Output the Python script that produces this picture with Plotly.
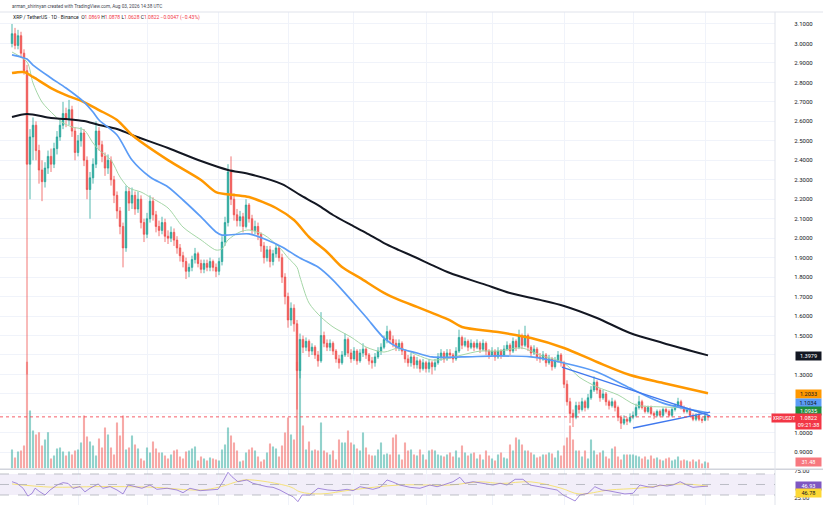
import plotly.graph_objects as go

# ---------------- data ----------------
first_open = 3.00
closes = [
    3.05, 2.99, 3.04, 2.95, 2.86, 2.38, 2.52, 2.58, 2.45, 2.35,
    2.29, 2.36, 2.42, 2.38, 2.46, 2.52, 2.58, 2.64, 2.61, 2.66,
    2.55, 2.44, 2.50, 2.54, 2.40, 2.25, 2.31, 2.38, 2.55, 2.48,
    2.42, 2.36, 2.40, 2.30, 2.22, 2.14, 2.06, 1.95, 2.24, 2.18,
    2.22, 2.15, 2.20, 2.08, 2.02, 2.10, 2.19, 2.12, 2.06, 2.04,
    2.08, 2.01, 2.00, 2.03, 1.99, 1.95, 1.91, 1.88, 1.83, 1.85,
    1.89, 1.92, 1.87, 1.84, 1.87, 1.85, 1.88, 1.85, 1.83, 1.88,
    1.98, 2.08, 2.34, 2.20, 2.12, 2.09, 2.11, 2.06, 2.17, 2.10,
    2.04, 2.06, 2.02, 1.96, 1.90, 1.94, 1.88, 1.92, 1.95, 1.90,
    1.80, 1.70, 1.58, 1.64, 1.56, 1.32, 1.48, 1.44, 1.47, 1.42,
    1.44, 1.40, 1.37, 1.50, 1.46, 1.44, 1.46, 1.42, 1.38, 1.36,
    1.40, 1.48, 1.41, 1.38, 1.42, 1.37, 1.41, 1.43, 1.40, 1.37,
    1.36, 1.39, 1.42, 1.44, 1.48, 1.52, 1.48, 1.46, 1.44, 1.46,
    1.42, 1.38, 1.36, 1.39, 1.35, 1.37, 1.33, 1.36, 1.33, 1.36,
    1.34, 1.36, 1.39, 1.41, 1.38, 1.41, 1.40, 1.38, 1.42, 1.49,
    1.45, 1.47, 1.44, 1.46, 1.44, 1.46, 1.43, 1.46, 1.42, 1.40,
    1.42, 1.39, 1.42, 1.40, 1.43, 1.45, 1.42, 1.47, 1.44, 1.50,
    1.45, 1.50, 1.44, 1.41, 1.43, 1.39, 1.38, 1.40, 1.36, 1.38,
    1.34, 1.37, 1.40, 1.36, 1.25, 1.16, 1.10, 1.08, 1.14, 1.12,
    1.16, 1.13, 1.18, 1.22, 1.26, 1.22, 1.18, 1.20, 1.16, 1.14,
    1.16, 1.13, 1.08, 1.05, 1.07, 1.06, 1.08, 1.09, 1.13, 1.16,
    1.13, 1.11, 1.13, 1.10, 1.09, 1.11, 1.09, 1.12, 1.11, 1.09,
    1.12, 1.14, 1.16, 1.13, 1.11, 1.12, 1.09, 1.07, 1.09, 1.07,
    1.065, 1.0869, 1.0822,
]
highs = [
    3.10, 3.08, 3.07, 3.06, 2.97, 2.89, 2.56, 2.62, 2.60, 2.48,
    2.40, 2.39, 2.45, 2.46, 2.49, 2.55, 2.61, 2.70, 2.67, 2.71,
    2.68, 2.57, 2.53, 2.57, 2.56, 2.42, 2.34, 2.41, 2.60, 2.57,
    2.50, 2.44, 2.43, 2.42, 2.32, 2.24, 2.16, 2.08, 2.27, 2.26,
    2.26, 2.24, 2.24, 2.22, 2.10, 2.13, 2.22, 2.21, 2.14, 2.09,
    2.11, 2.10, 2.04, 2.06, 2.05, 2.01, 1.97, 1.93, 1.90, 1.87,
    1.91, 1.95, 1.93, 1.89, 1.89, 1.89, 1.90, 1.89, 1.87, 1.90,
    2.01, 2.11, 2.38, 2.42, 2.23, 2.15, 2.14, 2.13, 2.20, 2.18,
    2.12, 2.09, 2.08, 2.03, 1.98, 1.96, 1.96, 1.94, 1.97, 1.96,
    1.92, 1.82, 1.72, 1.67, 1.66, 1.58, 1.51, 1.50, 1.49, 1.48,
    1.46, 1.45, 1.42, 1.62, 1.52, 1.48, 1.48, 1.47, 1.43, 1.40,
    1.42, 1.51, 1.49, 1.43, 1.44, 1.43, 1.43, 1.46, 1.44, 1.41,
    1.39, 1.41, 1.44, 1.46, 1.50, 1.55, 1.53, 1.50, 1.48, 1.48,
    1.47, 1.43, 1.40, 1.41, 1.40, 1.39, 1.38, 1.38, 1.37, 1.38,
    1.37, 1.38, 1.41, 1.43, 1.42, 1.43, 1.43, 1.41, 1.44, 1.53,
    1.50, 1.49, 1.48, 1.48, 1.47, 1.48, 1.47, 1.48, 1.47, 1.43,
    1.44, 1.43, 1.44, 1.43, 1.45, 1.47, 1.46, 1.49, 1.48, 1.53,
    1.51, 1.55, 1.51, 1.45, 1.45, 1.44, 1.41, 1.42, 1.41, 1.40,
    1.39, 1.39, 1.42, 1.41, 1.37, 1.27, 1.18, 1.12, 1.16, 1.16,
    1.18, 1.17, 1.20, 1.24, 1.29, 1.27, 1.23, 1.22, 1.21, 1.17,
    1.18, 1.17, 1.14, 1.09, 1.09, 1.08, 1.10, 1.11, 1.15, 1.19,
    1.17, 1.14, 1.14, 1.14, 1.11, 1.12, 1.12, 1.13, 1.13, 1.12,
    1.13, 1.15, 1.18, 1.17, 1.14, 1.13, 1.13, 1.10, 1.10, 1.10,
    1.08, 1.095, 1.0878,
]
lows = [
    2.98, 2.97, 2.97, 2.93, 2.84, 1.30, 2.20, 2.40, 2.40, 2.28,
    2.19, 2.26, 2.33, 2.34, 2.36, 2.43, 2.50, 2.56, 2.57, 2.58,
    2.52, 2.40, 2.42, 2.47, 2.37, 2.20, 2.10, 2.28, 2.36, 2.45,
    2.39, 2.32, 2.33, 2.27, 2.18, 2.10, 2.02, 1.85, 1.93, 2.14,
    2.15, 2.12, 2.13, 2.05, 1.98, 2.00, 2.08, 2.09, 2.03, 2.01,
    2.02, 1.98, 1.97, 1.98, 1.96, 1.92, 1.88, 1.85, 1.79, 1.80,
    1.83, 1.87, 1.85, 1.82, 1.82, 1.83, 1.83, 1.83, 1.80, 1.81,
    1.86, 1.96, 2.06, 2.17, 2.09, 2.06, 2.06, 2.03, 2.05, 2.08,
    2.02, 2.02, 1.99, 1.93, 1.87, 1.88, 1.85, 1.86, 1.90, 1.88,
    1.77, 1.66, 1.54, 1.55, 1.52, 1.12, 1.28, 1.41, 1.42, 1.39,
    1.40, 1.38, 1.34, 1.36, 1.44, 1.42, 1.42, 1.40, 1.36, 1.33,
    1.35, 1.39, 1.39, 1.36, 1.37, 1.35, 1.36, 1.39, 1.38, 1.35,
    1.33, 1.34, 1.38, 1.40, 1.43, 1.46, 1.46, 1.44, 1.42, 1.42,
    1.40, 1.36, 1.34, 1.34, 1.33, 1.33, 1.31, 1.32, 1.31, 1.31,
    1.30, 1.32, 1.35, 1.37, 1.36, 1.37, 1.38, 1.36, 1.37, 1.41,
    1.43, 1.44, 1.42, 1.43, 1.42, 1.43, 1.41, 1.42, 1.40, 1.38,
    1.39, 1.37, 1.38, 1.38, 1.39, 1.42, 1.40, 1.41, 1.42, 1.43,
    1.43, 1.44, 1.42, 1.39, 1.40, 1.37, 1.36, 1.37, 1.34, 1.35,
    1.32, 1.33, 1.36, 1.34, 1.23, 1.14, 1.05, 1.03, 1.07, 1.10,
    1.11, 1.11, 1.12, 1.17, 1.21, 1.20, 1.16, 1.17, 1.14, 1.12,
    1.13, 1.11, 1.06, 1.02, 1.04, 1.04, 1.05, 1.07, 1.08, 1.12,
    1.12, 1.10, 1.10, 1.09, 1.07, 1.08, 1.08, 1.08, 1.10, 1.08,
    1.08, 1.11, 1.13, 1.12, 1.10, 1.10, 1.08, 1.06, 1.06, 1.06,
    1.05, 1.06, 1.0628,
]
volumes = [  # millions
    100, 58, 89, 95, 121, 560, 305, 200, 179, 190,
    121, 152, 190, 52, 68, 105, 110, 89, 68, 89,
    74, 95, 100, 137, 278, 168, 142, 121, 68, 158,
    110, 215, 179, 110, 74, 242, 173, 278, 100, 110,
    173, 126, 105, 52, 42, 110, 84, 142, 105, 84,
    84, 68, 52, 74, 95, 100, 63, 52, 89, 95,
    105, 116, 42, 63, 52, 42, 58, 52, 47, 42,
    100, 126, 215, 173, 137, 95, 37, 42, 84, 100,
    110, 95, 63, 37, 47, 84, 131, 116, 105, 63,
    121, 189, 268, 179, 152, 560, 520, 226, 100, 142,
    95, 100, 95, 242, 95, 84, 74, 95, 47, 152,
    137, 137, 200, 137, 126, 105, 95, 189, 110, 74,
    68, 68, 100, 137, 74, 79, 74, 163, 179, 74,
    47, 137, 95, 100, 74, 68, 100, 74, 47, 95,
    100, 95, 74, 68, 63, 74, 84, 63, 95, 58,
    121, 84, 68, 79, 84, 52, 74, 47, 95, 68,
    52, 42, 74, 84, 58, 52, 126, 95, 163, 152,
    126, 95, 95, 84, 74, 58, 63, 74, 74, 84,
    79, 58, 95, 68, 121, 163, 226, 152, 95, 95,
    63, 95, 52, 152, 95, 74, 84, 95, 63, 52,
    105, 116, 63, 47, 74, 74, 74, 74, 68, 63,
    52, 63, 47, 68, 52, 58, 47, 42, 52, 58,
    42, 47, 63, 42, 47, 42, 37, 47, 37, 47,
    26, 37, 31.48,
]

# moving averages (candle index, value)
ma200_x = [0, 5, 13, 18, 24, 29, 35, 40, 52, 63, 72, 79, 90, 96, 102, 107, 113, 118,
           124, 129, 135, 140, 146, 157, 166, 176, 184, 195, 206, 217, 232]
ma200_v = [2.622, 2.638, 2.617, 2.612, 2.602, 2.581, 2.561, 2.530, 2.463, 2.396, 2.350,
           2.330, 2.278, 2.222, 2.170, 2.119, 2.068, 2.027, 1.975, 1.939, 1.898, 1.862,
           1.821, 1.765, 1.718, 1.683, 1.652, 1.590, 1.513, 1.462, 1.3979]
ma100_x = [0, 4, 7, 13, 18, 24, 29, 35, 40, 52, 63, 68, 74, 79, 88, 94, 99, 105, 110,
           116, 124, 129, 135, 140, 146, 150, 162, 173, 184, 195, 206, 217, 232]
ma100_v = [2.848, 2.853, 2.828, 2.771, 2.735, 2.699, 2.658, 2.607, 2.530, 2.401, 2.299,
           2.237, 2.222, 2.211, 2.155, 2.093, 2.006, 1.929, 1.852, 1.796, 1.719, 1.683,
           1.647, 1.616, 1.578, 1.544, 1.518, 1.487, 1.436, 1.364, 1.297, 1.256, 1.2033]
ma50_x = [0, 3, 5, 7, 13, 18, 24, 27, 29, 35, 40, 46, 52, 57, 63, 68, 70, 79, 85, 90,
          96, 102, 107, 113, 118, 124, 129, 135, 140, 150, 162, 173, 184, 195, 206, 217, 232]
ma50_v = [2.941, 2.930, 2.920, 2.889, 2.823, 2.771, 2.699, 2.648, 2.607, 2.530, 2.401,
          2.314, 2.263, 2.196, 2.109, 2.032, 2.016, 2.022, 1.991, 1.955, 1.898, 1.852,
          1.785, 1.683, 1.595, 1.487, 1.436, 1.410, 1.390, 1.390, 1.395, 1.390, 1.359,
          1.313, 1.230, 1.153, 1.1034]
ma20_x = [0, 5, 7, 10, 14, 17, 20, 24, 27, 29, 33, 36, 39, 43, 46, 52, 57, 63, 68, 70,
          72, 76, 79, 84, 89, 92, 95, 96, 99, 103, 107, 113, 118, 124, 129, 135, 140,
          146, 150, 156, 162, 170, 176, 184, 189, 195, 202, 208, 217, 223, 232]
ma20_v = [2.956, 2.905, 2.797, 2.699, 2.633, 2.592, 2.571, 2.556, 2.489, 2.453, 2.401,
          2.314, 2.258, 2.237, 2.211, 2.155, 2.057, 1.991, 1.939, 1.945, 1.991, 2.032,
          2.042, 2.017, 1.955, 1.900, 1.850, 1.800, 1.667, 1.595, 1.544, 1.492, 1.441,
          1.415, 1.436, 1.400, 1.374, 1.385, 1.400, 1.420, 1.420, 1.436, 1.400, 1.359,
          1.287, 1.236, 1.195, 1.143, 1.133, 1.128, 1.0935]

# drawn trendlines (triangle)
trend_res_x = [183.3, 232.7]
trend_res_y = [1.338, 1.087]
trend_sup_x = [207.0, 232.7]
trend_sup_y = [1.025, 1.107]

# RSI and its moving average
rsi_x = [0, 1.7, 3.7, 5.3, 6.7, 7.7, 9.3, 11, 12.7, 15, 17, 18.7, 20.3, 22.7, 24.3, 26,
         28.7, 30.3, 32.7, 35, 37, 38.7, 41, 43.3, 46, 48.3, 51.7, 55, 57, 59.3, 62.7,
         66, 68.7, 70.3, 72, 73.3, 75.3, 78.3, 80.3, 82.7, 85, 87, 89.3, 91.7, 93.7,
         95.3, 96.7, 99.3, 102, 105.3, 108.3, 111.7, 113.7, 116, 118.3, 120.3, 122.7,
         125, 126.7, 129.3, 132.7, 136, 139.3, 141.7, 143.7, 147, 149.3, 151, 153.7,
         157, 160.3, 162.7, 165, 167.7, 170.3, 172.7, 176, 179.3, 181.7, 183.7, 186,
         187.7, 189.3, 192, 194.3, 196.7, 198.7, 201.7, 204.3, 207, 209.3, 211.7,
         213.7, 216, 218.3, 220.3, 222.7, 225, 227, 229.3, 232]
rsi_v = [55.3, 52, 42.8, 28, 33, 43, 36, 30, 39.5, 49, 53.5, 52, 42.7, 46, 36, 42.8,
         51, 42.8, 46, 39.5, 32, 49, 46, 42.8, 49, 40.8, 42.8, 39.5, 34.4, 42.8, 38.2,
         39.5, 40.8, 55.3, 73.2, 64.9, 55.3, 58.6, 52.3, 49, 45.8, 44.6, 39.5, 32, 26.8,
         17.3, 30, 30, 42.8, 39.5, 38.2, 40.8, 38.2, 45.8, 42.8, 40.8, 44.6, 58.6, 55.3,
         49, 44.6, 42.8, 49, 45.8, 49, 55.3, 63.7, 52.3, 55.3, 52.3, 49, 52.3, 49, 59.9,
         59.9, 49, 45.8, 42.8, 39.5, 30, 23.7, 18.6, 30, 33.2, 45.8, 39.5, 38.2, 34.4,
         32, 33.2, 49, 45.8, 44.6, 49, 47.1, 49, 55.3, 49, 44.6, 45.8, 46.93]
rsi_ma_x = [0, 13, 29, 46, 63, 69, 76, 78, 84, 93, 96, 103, 113, 129, 146, 156, 163,
            173, 183, 189, 199, 209, 223, 232]
rsi_ma_v = [51, 45, 46, 45, 39.5, 45, 57, 59, 56, 45, 36, 32, 39.5, 49, 49, 55, 52, 55,
            43, 32, 39.5, 43, 51, 46.78]

# axis labels shown on the price scale (1.1, 1.2, 1.4 are hidden behind value badges)
price_ticks = [0.9, 1.0, 1.3, 1.5, 1.6, 1.7, 1.8, 1.9, 2.0, 2.1, 2.2,
               2.3, 2.4, 2.5, 2.6, 2.7, 2.8, 2.9, 3.0, 3.1]
price_hidden_ticks = [1.1, 1.2, 1.4]
rsi_ticks = [25, 75]
rsi_levels = [30, 50, 70]

author_line = "arman_shirinyan created with TradingView.com, Aug 03, 2026 14:38 UTC"
symbol_line = "XRP / TetherUS · 1D · Binance"
countdown = "09:21:38"

# ---------------- derived ----------------
n = len(closes)
idx = list(range(n))
opens = [first_open] + closes[:-1]
up = [c >= o for o, c in zip(opens, closes)]
vol_colors = ["rgba(38,166,154,0.5)" if u else "rgba(239,83,80,0.5)" for u in up]

W, H = 823, 505
FONT = "Roboto, Liberation Sans, sans-serif"
RED = "#f23645"
GRID = "#f0f3fa"


def py(pix):
    return 1 - pix / H


def pxp(pix):
    return pix / W


X_RIGHT = pxp(775)
XR = [-4, -4 + 775 / 3]
grid_x = [22, 45.3, 68.7, 92, 113.7, 138.3, 160.3, 184.3, 207, 231]

fig = go.Figure()

# volume (base axis, drawn behind)
fig.add_trace(go.Bar(x=idx, y=volumes, marker=dict(color=vol_colors, line=dict(width=0)),
                     xaxis="x", yaxis="y", hoverinfo="skip"))

# moving averages
for xs, vs, col, wd in [(ma20_x, ma20_v, "#a5d6a7", 1.0),
                        (ma200_x, ma200_v, "#131722", 2.0),
                        (ma100_x, ma100_v, "#ff9800", 2.5),
                        (ma50_x, ma50_v, "#5b9cf6", 1.7)]:
    fig.add_trace(go.Scatter(x=xs, y=vs, mode="lines",
                             line=dict(color=col, width=wd, shape="spline", smoothing=0.8),
                             xaxis="x", yaxis="y2", hoverinfo="skip"))

# candles
fig.add_trace(go.Candlestick(
    x=idx, open=opens, high=highs, low=lows, close=closes,
    increasing=dict(line=dict(color="#26a69a", width=0.8), fillcolor="#26a69a"),
    decreasing=dict(line=dict(color="#ef5350", width=0.8), fillcolor="#ef5350"),
    xaxis="x", yaxis="y2", hoverinfo="skip"))

# trendlines
for xs, ys in [(trend_res_x, trend_res_y), (trend_sup_x, trend_sup_y)]:
    fig.add_trace(go.Scatter(x=xs, y=ys, mode="lines", line=dict(color="#3f78ee", width=1.3),
                             xaxis="x", yaxis="y2", hoverinfo="skip"))

# RSI
fig.add_trace(go.Scatter(x=rsi_ma_x, y=rsi_ma_v, mode="lines",
                         line=dict(color="#f6e27a", width=1, shape="spline"),
                         xaxis="x2", yaxis="y3", hoverinfo="skip"))
fig.add_trace(go.Scatter(x=rsi_x, y=rsi_v, mode="lines",
                         line=dict(color="#8e6fd3", width=0.8),
                         xaxis="x2", yaxis="y3", hoverinfo="skip"))

MAIN_DOM = [py(468.5), py(12)]
RSI_DOM = [0, py(470)]

fig.update_layout(
    width=W, height=H, margin=dict(l=0, r=0, t=0, b=0, autoexpand=False),
    paper_bgcolor="white", plot_bgcolor="white", showlegend=False,
    hovermode=False, bargap=0.3,
    font=dict(family=FONT, color="#131722"),
    xaxis=dict(domain=[0, X_RIGHT], range=XR, anchor="y", tickvals=grid_x,
               showticklabels=False, showgrid=True, gridcolor=GRID, gridwidth=1,
               zeroline=False, showline=False, rangeslider=dict(visible=False),
               automargin=False),
    yaxis=dict(domain=MAIN_DOM, range=[0, 2397], visible=False, anchor="x",
               automargin=False),
    yaxis2=dict(overlaying="y", side="right", anchor="x", range=[0.817, 3.1616],
                tickmode="array", tickvals=price_ticks,
                ticktext=[f"{v:.4f}" for v in price_ticks],
                ticks="outside", ticklen=17, tickcolor="rgba(0,0,0,0)",
                tickfont=dict(size=6, color="#131722", family=FONT),
                showgrid=True, gridcolor=GRID, zeroline=False, showline=False,
                minor=dict(tickmode="array", tickvals=price_hidden_ticks, showgrid=True,
                           gridcolor=GRID, ticks=""),
                automargin=False),
    xaxis2=dict(domain=[0, X_RIGHT], range=XR, anchor="y3", tickvals=grid_x,
                showticklabels=False, showgrid=True, gridcolor=GRID,
                zeroline=False, showline=False, automargin=False),
    yaxis3=dict(domain=RSI_DOM, range=[10.95, 77.6], side="right", anchor="x2",
                tickvals=rsi_ticks, ticktext=[f"{v:.2f}" for v in rsi_ticks],
                ticks="outside", ticklen=17, tickcolor="rgba(0,0,0,0)",
                tickfont=dict(size=6, color="#131722", family=FONT),
                showgrid=False, zeroline=False, showline=False, automargin=False),
)

shapes = [
    dict(type="rect", xref="paper", yref="y3", x0=0, x1=X_RIGHT, y0=rsi_levels[0],
         y1=rsi_levels[2], fillcolor="rgba(126,87,194,0.10)", line=dict(width=0),
         layer="below"),
    dict(type="line", xref="paper", yref="paper", x0=0, x1=1, y0=py(12), y1=py(12),
         line=dict(color="#e0e3eb", width=1)),
    dict(type="line", xref="paper", yref="paper", x0=0, x1=1, y0=py(469.3), y1=py(469.3),
         line=dict(color="#d1d4dc", width=1.5)),
    dict(type="line", xref="paper", yref="paper", x0=X_RIGHT, x1=X_RIGHT, y0=0, y1=py(12),
         line=dict(color="#e0e3eb", width=1)),
    dict(type="line", xref="paper", yref="y2", x0=0, x1=X_RIGHT, y0=closes[-1],
         y1=closes[-1], line=dict(color=RED, width=0.8, dash="dot")),
]
for lv in rsi_levels:
    shapes.append(dict(type="line", xref="paper", yref="y3", x0=0, x1=X_RIGHT, y0=lv, y1=lv,
                       line=dict(color="#a3a6af", width=0.7, dash="dash")))
fig.update_layout(shapes=shapes)

ann = []
ann.append(dict(xref="paper", yref="paper", x=pxp(10), y=py(6), xanchor="left",
                yanchor="middle", showarrow=False, text=author_line,
                font=dict(size=4.7, color="#434651", family=FONT)))
chg = closes[-1] - opens[-1]
pct = chg / opens[-1] * 100


def red(s):
    return f"<span style='color:{RED}'>{s}</span>"


ohlc = (f"{symbol_line}&nbsp;&nbsp;O{red(f'{opens[-1]:.4f}')} H{red(f'{highs[-1]:.4f}')} "
        f"L{red(f'{lows[-1]:.4f}')} C{red(f'{closes[-1]:.4f}')} "
        + red(f"{chg:+.4f} ({pct:+.2f}%)".replace("-", "\u2212")))
ann.append(dict(xref="paper", yref="paper", x=pxp(11), y=py(17.5), xanchor="left",
                yanchor="middle", showarrow=False, text=ohlc,
                font=dict(size=5.0, color="#131722", family=FONT)))


def badge(text, pix_y, bg, fg, cx=808, w=23, size=5.6):
    ann.append(dict(xref="paper", yref="paper", x=pxp(cx), y=py(pix_y), xanchor="center",
                    yanchor="middle", showarrow=False, text=text, bgcolor=bg,
                    font=dict(size=size, color=fg, family=FONT), width=w, borderpad=1))


badge(f"{ma200_v[-1]:.4f}", 356, "#131722", "white")
badge(f"{ma100_v[-1]:.4f}", 394, "#ff9800", "#131722")
badge(f"{ma50_v[-1]:.4f}", 402.5, "#5b9cf6", "#131722")
badge(f"{ma20_v[-1]:.4f}", 410.5, "#1e8e3e", "white")
badge(f"{closes[-1]:.4f}<br>{countdown}", 421, RED, "white")
badge("XRPUSDT", 417.5, RED, "white", cx=784, w=22, size=5.2)
badge(f"{volumes[-1]:.2f}", 462, "#f7787f", "white")
badge(f"{rsi_v[-1]:.2f}", 485.5, "#7e57c2", "white")
badge(f"{rsi_ma_v[-1]:.2f}", 492.5, "#fdd835", "#131722")

fig.update_layout(annotations=ann)

fig.write_html("out.html", config={"displayModeBar": False, "staticPlot": True},
               post_script="document.body.style.margin='0';document.body.style.padding='0';"
                           "document.body.style.overflow='hidden';")
